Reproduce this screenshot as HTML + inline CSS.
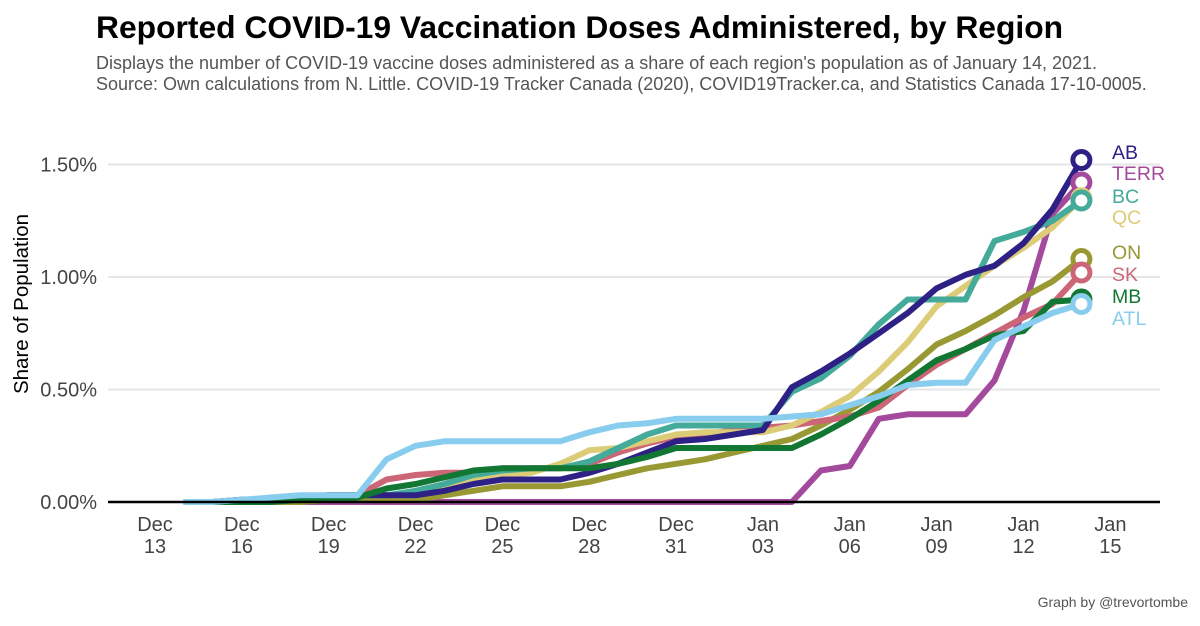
<!DOCTYPE html>
<html><head><meta charset="utf-8"><style>
body{margin:0;background:#fff;width:1200px;height:621px;overflow:hidden;font-family:"Liberation Sans",sans-serif}
</style></head><body>
<svg width="1200" height="621" xmlns="http://www.w3.org/2000/svg" font-family="Liberation Sans, sans-serif">
<text x="96" y="38" font-size="31.8" font-weight="bold" fill="#000">Reported COVID-19 Vaccination Doses Administered, by Region</text>
<text x="96" y="69" font-size="18" fill="#555">Displays the number of COVID-19 vaccine doses administered as a share of each region's population as of January 14, 2021.</text>
<text x="96" y="90" font-size="18" fill="#555">Source: Own calculations from N. Little. COVID-19 Tracker Canada (2020), COVID19Tracker.ca, and Statistics Canada 17-10-0005.</text>
<text transform="translate(28,304) rotate(-90)" text-anchor="middle" font-size="20.5" fill="#000">Share of Population</text>
<text x="1188" y="607" text-anchor="end" font-size="14" fill="#555">Graph by @trevortombe</text>
<g id="grid"></g><g id="lines"></g><g id="ends"></g><g id="labels"></g>
</svg>
<script>
const regions=["AB","TERR","BC","QC","ON","SK","MB","ATL"];
const colors=["#2e2186","#a44a9c","#44aa99","#ddcc77","#999933","#cc6677","#117733","#88ccee"];
const yTicks=[0,0.5,1.0,1.5];
const yTickLabels=["0.00%","0.50%","1.00%","1.50%"];
const xTickDays=[0,3,6,9,12,15,18,21,24,27,30,33];
const xTickMonth=["Dec","Dec","Dec","Dec","Dec","Dec","Dec","Jan","Jan","Jan","Jan","Jan"];
const xTickDay=["13","16","19","22","25","28","31","03","06","09","12","15"];
// values by day, day 1 = Dec 14 ... day 32 = Jan 14 (percent of population)
const AB=[0,0,0.01,0.01,0.02,0.03,0.03,0.03,0.03,0.05,0.08,0.10,0.10,0.10,0.13,0.17,0.22,0.27,0.28,0.30,0.32,0.51,0.58,0.66,0.75,0.84,0.95,1.01,1.05,1.15,1.30,1.52];
const TERR=[0,0,0,0,0,0,0,0,0,0,0,0,0,0,0,0,0,0,0,0,0,0,0.14,0.16,0.37,0.39,0.39,0.39,0.54,0.85,1.28,1.42];
const BC=[0,0,0.01,0.01,0.02,0.03,0.03,0.03,0.05,0.08,0.12,0.14,0.15,0.15,0.18,0.24,0.30,0.34,0.34,0.34,0.34,0.49,0.55,0.65,0.79,0.90,0.90,0.90,1.16,1.20,1.25,1.34];
const QC=[0,0,0.01,0.01,0.02,0.02,0.03,0.03,0.03,0.06,0.10,0.12,0.13,0.17,0.23,0.24,0.27,0.30,0.31,0.31,0.31,0.34,0.40,0.47,0.58,0.71,0.87,0.96,1.05,1.13,1.22,1.35];
const ON=[0,0,0,0,0,0.01,0.01,0.01,0.01,0.03,0.05,0.07,0.07,0.07,0.09,0.12,0.15,0.17,0.19,0.22,0.25,0.28,0.34,0.41,0.49,0.59,0.70,0.76,0.83,0.91,0.98,1.08];
const SK=[0,0,0,0,0.02,0.03,0.03,0.10,0.12,0.13,0.13,0.15,0.15,0.15,0.17,0.22,0.26,0.29,0.30,0.32,0.33,0.34,0.36,0.38,0.42,0.52,0.61,0.68,0.75,0.82,0.88,1.02];
const MB=[0,0,0,0,0.01,0.01,0.02,0.06,0.08,0.11,0.14,0.15,0.15,0.15,0.15,0.17,0.20,0.24,0.24,0.24,0.24,0.24,0.30,0.37,0.45,0.54,0.63,0.68,0.74,0.76,0.89,0.90];
const ATL=[0,0,0.01,0.02,0.03,0.03,0.03,0.19,0.25,0.27,0.27,0.27,0.27,0.27,0.31,0.34,0.35,0.37,0.37,0.37,0.37,0.38,0.39,0.43,0.47,0.52,0.53,0.53,0.72,0.78,0.84,0.88];
const series=[TERR,ON,SK,QC,BC,AB,MB,ATL];
const seriesIdx=[1,4,5,3,2,0,6,7];
const labelY=[152,173,196,217,252,274,296,318];
function xs(d){return 155+28.95*d;}
function ys(v){return 502-225*v;}
const NS="http://www.w3.org/2000/svg";
function mk(t,a,p){const e=document.createElementNS(NS,t);for(const k in a)e.setAttribute(k,a[k]);p.appendChild(e);return e;}
const g=document.getElementById('grid');
yTicks.forEach((v,i)=>{
  if(v>0){const l=mk('line',{x1:108,x2:1160,y1:ys(v),y2:ys(v),stroke:'#e6e6e6','stroke-width':2},g);
  
  }
  const t=mk('text',{x:97,y:ys(v)+7,'text-anchor':'end','font-size':20,fill:'#444'},g);t.textContent=yTickLabels[i];
  
  
});
xTickDays.forEach((d,i)=>{
  const t=mk('text',{x:xs(d),y:531,'text-anchor':'middle','font-size':20,fill:'#444'},g);
  
  
  mk('tspan',{x:xs(d),dy:0},t).textContent=xTickMonth[i];
  mk('tspan',{x:xs(d),dy:22},t).textContent=xTickDay[i];
});
const L=document.getElementById('lines'),E=document.getElementById('ends'),LB=document.getElementById('labels');
series.forEach((s,j)=>{
  const ri=seriesIdx[j];
  const pts=s.map((v,i)=>xs(i+1).toFixed(1)+','+ys(v).toFixed(1)).join(' ');
  const p=mk('polyline',{points:pts,fill:'none',stroke:colors[ri],'stroke-width':6,'stroke-linejoin':'round'},L);
  
  
});
const ax=mk('line',{x1:108,x2:1160,y1:502,y2:502,stroke:'#000','stroke-width':2.5},L);


series.forEach((s,j)=>{
  const ri=seriesIdx[j];
  const c=mk('circle',{cx:xs(s.length),cy:ys(s[s.length-1]),r:8.5,fill:'#fff',stroke:colors[ri],'stroke-width':5},E);
  
  
});
regions.forEach((r,i)=>{
  const t=mk('text',{x:1112,y:labelY[i]+7,'font-size':19.5,fill:colors[i]},LB);t.textContent=r;
  
  
});
</script>
</body></html>
